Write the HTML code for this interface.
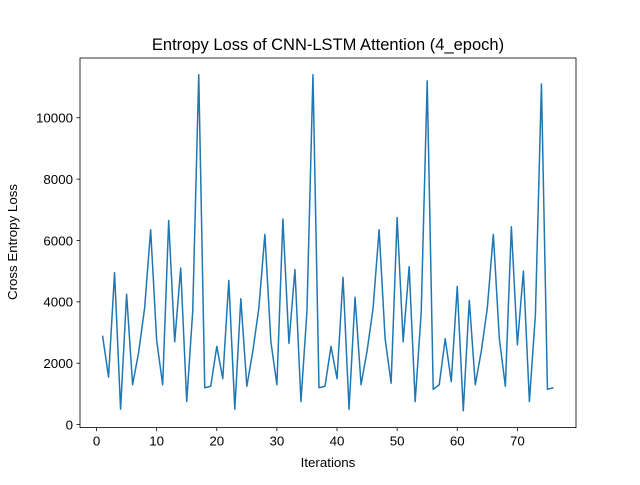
<!DOCTYPE html>
<html><head><meta charset="utf-8"><style>body{margin:0;background:#fff}svg text{font-family:"Liberation Sans",sans-serif;fill:#000}</style></head>
<body>
<svg width="640" height="480" id="c">
<rect width="640" height="480" fill="#fff"/>
<text x="328" y="50" font-size="16.5" text-anchor="middle">Entropy Loss of CNN-LSTM Attention (4_epoch)</text>
<text x="328" y="467" font-size="13.3" text-anchor="middle">Iterations</text>
<text transform="translate(17,242) rotate(-90)" font-size="13.3" text-anchor="middle">Cross Entropy Loss</text>
<g id="ax"></g>
</svg>
<script>
const iterations=[];for(let i=1;i<=76;i++)iterations.push(i);
const lossValues=[2900,1550,4950,500,4250,1300,2350,3800,6350,2750,1300,6650,2700,5100,750,3700,11400,1200,1250,2550,1500,4700,500,4100,1250,2400,3800,6200,2700,1300,6700,2650,5050,750,3700,11400,1200,1250,2550,1500,4800,500,4150,1300,2400,3800,6350,2800,1350,6750,2700,5150,750,3650,11200,1150,1300,2800,1400,4500,450,4050,1300,2400,3800,6200,2800,1250,6450,2600,5000,750,3600,11100,1150,1200];
const xTicks=[0,10,20,30,40,50,60,70];
const yTicks=[0,2000,4000,6000,8000,10000];
const L=80,R=576,T=58,B=427.6;
const xmn=Math.min(...iterations),xmx=Math.max(...iterations),xm=(xmx-xmn)*0.05;
const ymn=Math.min(...lossValues),ymx=Math.max(...lossValues),ym=(ymx-ymn)*0.05;
const sx=v=>L+(v-(xmn-xm))/((xmx+xm)-(xmn-xm))*(R-L);
const sy=v=>B-(v-(ymn-ym))/((ymx+ym)-(ymn-ym))*(B-T);
const ax=document.getElementById('ax');const NS='http://www.w3.org/2000/svg';
function mk(t,a){const e=document.createElementNS(NS,t);for(const k in a)e.setAttribute(k,a[k]);ax.appendChild(e);return e;}
xTicks.forEach(v=>{const x=sx(v);
const l=mk('line',{x1:x,x2:x,y1:B,y2:B+3.5,stroke:'#000','stroke-width':0.8});


const t=mk('text',{x:x,y:B+18,'font-size':13.3,'text-anchor':'middle'});t.textContent=v;

});
yTicks.forEach(v=>{const y=sy(v);
const l=mk('line',{x1:L-3.5,x2:L,y1:y,y2:y,stroke:'#000','stroke-width':0.8});


const t=mk('text',{x:L-7,y:y+4.8,'font-size':13.3,'text-anchor':'end'});t.textContent=v;

});
const p=mk('polyline',{points:iterations.map((x,i)=>sx(x)+','+sy(lossValues[i])).join(' '),fill:'none',stroke:'#1f77b4','stroke-width':1.5,'stroke-linejoin':'round'});


const f=mk('rect',{x:L,y:T,width:R-L,height:B-T,fill:'none',stroke:'#000','stroke-width':0.8});


</script>
</body></html>
